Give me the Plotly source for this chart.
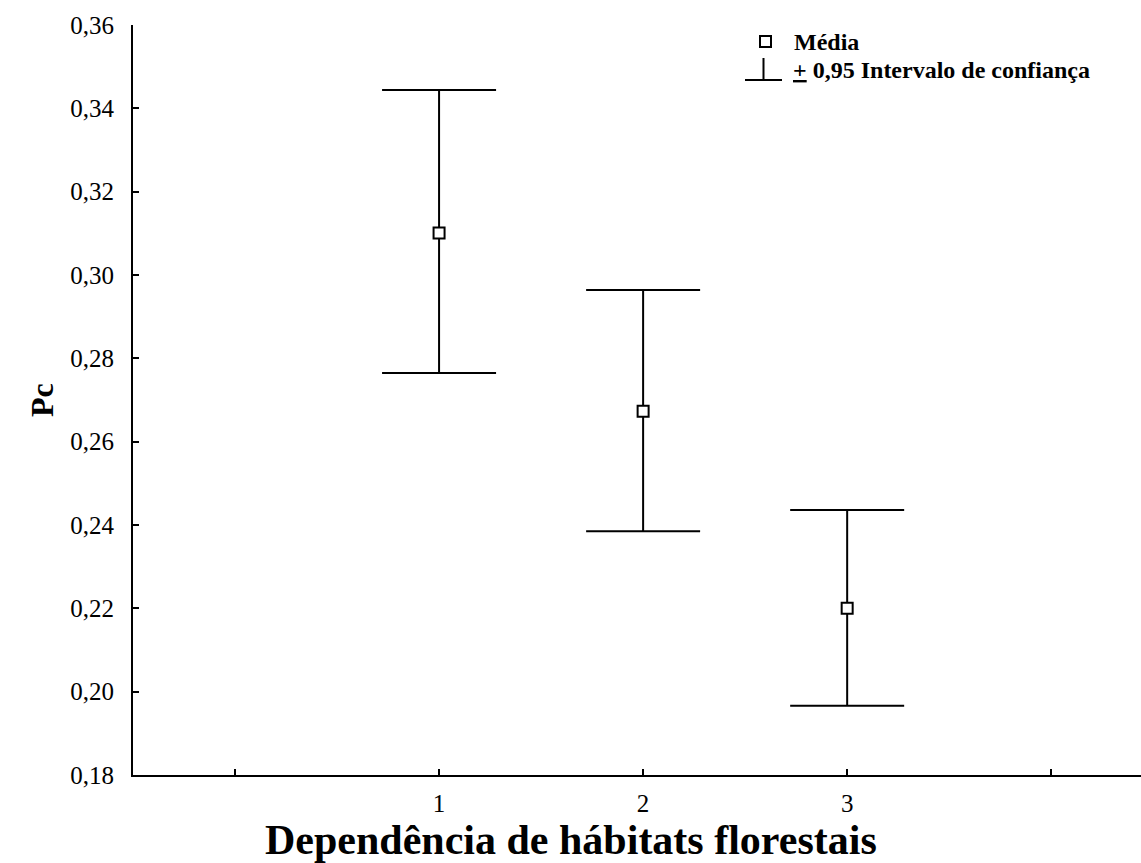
import plotly.graph_objects as go

categories = [1, 2, 3]
means = [0.3101, 0.2673, 0.2200]
upper = [0.3444, 0.2964, 0.2436]
lower = [0.2765, 0.2385, 0.1966]

x_tickvals = [0, 1, 2, 3, 4]
x_ticktext = ["", "1", "2", "3", ""]
y_tickvals = [0.18, 0.20, 0.22, 0.24, 0.26, 0.28, 0.30, 0.32, 0.34, 0.36]

font_family = "Liberation Serif"

fig = go.Figure()
fig.add_trace(go.Scatter(
    x=categories, y=means, mode="markers",
    marker=dict(symbol="square", size=11, color="white",
                line=dict(color="black", width=2)),
    error_y=dict(type="data", symmetric=False,
                 array=[u - m for u, m in zip(upper, means)],
                 arrayminus=[m - l for m, l in zip(means, lower)],
                 color="black", thickness=2, width=57),
    showlegend=False,
))

L, R, T, B = 133, 1141, 25, 775
W, H = 1141, 863


def px(x):
    return (x - L) / (R - L)


def py(y):
    return (B - y) / (B - T)


shapes = [
    dict(type="rect", xref="paper", yref="paper",
         x0=px(760), x1=px(771), y0=py(47), y1=py(36),
         line=dict(color="black", width=2), fillcolor="white"),
    dict(type="line", xref="paper", yref="paper",
         x0=px(745), x1=px(782), y0=py(80), y1=py(80),
         line=dict(color="black", width=2)),
    dict(type="line", xref="paper", yref="paper",
         x0=px(763.5), x1=px(763.5), y0=py(58), y1=py(80),
         line=dict(color="black", width=2)),
]

annotations = [
    dict(text="<b>Média</b>", xref="paper", yref="paper",
         x=px(792), y=py(42), xanchor="left", yanchor="middle",
         showarrow=False, font=dict(family=font_family, size=24, color="black")),
    dict(text="<b><u>+</u> 0,95 Intervalo de confiança</b>", xref="paper", yref="paper",
         x=px(791), y=py(70), xanchor="left", yanchor="middle",
         showarrow=False, font=dict(family=font_family, size=24, color="black")),
    dict(text="<b>Dependência de hábitats florestais</b>", xref="paper", yref="paper",
         x=px(571), y=py(840), xanchor="center", yanchor="middle",
         showarrow=False, font=dict(family=font_family, size=42, color="black")),
    dict(text="<b>Pc</b>", xref="paper", yref="paper",
         x=px(42), y=py(400), xanchor="center", yanchor="middle", textangle=-90,
         showarrow=False, font=dict(family=font_family, size=32, color="black")),
]

fig.update_layout(
    width=W, height=H,
    margin=dict(l=L, r=W - R, t=T, b=H - B, pad=0),
    paper_bgcolor="white", plot_bgcolor="white",
    separators=",.",
    font=dict(family=font_family, size=25, color="black"),
    shapes=shapes, annotations=annotations,
    xaxis=dict(range=[-0.5, 4.44], tickvals=x_tickvals, ticktext=x_ticktext,
               showgrid=False, zeroline=False, showline=True, linecolor="black",
               linewidth=2, ticks="inside", ticklen=6, tickwidth=2, tickcolor="black",
               ticklabelstandoff=5,
               tickfont=dict(family=font_family, size=25)),
    yaxis=dict(range=[0.18, 0.36], tickvals=y_tickvals, tickformat=".2f",
               showgrid=False, zeroline=False, showline=True, linecolor="black",
               linewidth=2, ticks="inside", ticklen=6, tickwidth=2, tickcolor="black",
               ticklabelstandoff=12,
               tickfont=dict(family=font_family, size=25)),
)

fig.write_html("out.html")
